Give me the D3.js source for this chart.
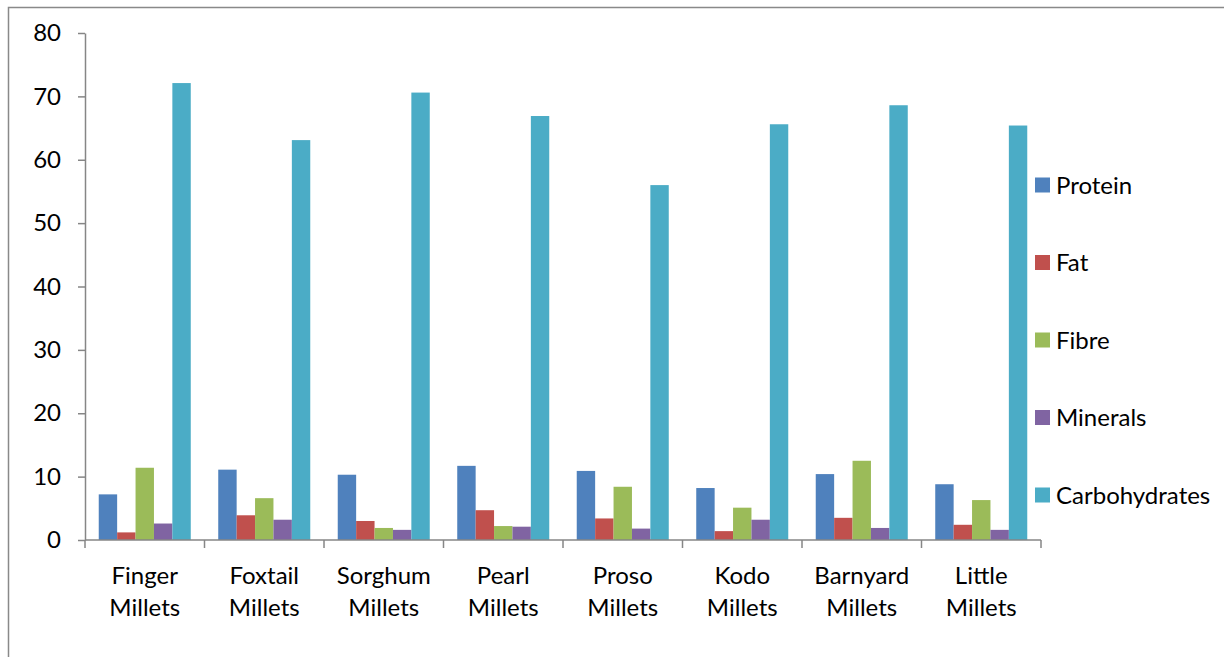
<!DOCTYPE html>
<html>
<head>
<meta charset="utf-8">
<script src="https://cdn.jsdelivr.net/npm/d3@7/dist/d3.min.js"></script>
<style>
  html, body { margin: 0; padding: 0; background: #fff; }
  svg { display: block; }
  text { font-family: Lato, "Open Sans", sans-serif; fill: #000; }
</style>
</head>
<body>
<svg id="chart" width="1224" height="657"></svg>
<script>
// Millet varieties on the x axis (two-line labels)
const categories = [
  ["Finger", "Millets"],
  ["Foxtail", "Millets"],
  ["Sorghum", "Millets"],
  ["Pearl", "Millets"],
  ["Proso", "Millets"],
  ["Kodo", "Millets"],
  ["Barnyard", "Millets"],
  ["Little", "Millets"]
];

// Nutrient composition (g per 100 g)
const protein       = [7.2, 11.1, 10.3, 11.7, 10.9, 8.2, 10.4, 8.8];
const fat           = [1.2, 3.9, 3.0, 4.7, 3.4, 1.4, 3.5, 2.4];
const fibre         = [11.4, 6.6, 1.9, 2.2, 8.4, 5.1, 12.5, 6.3];
const minerals      = [2.6, 3.2, 1.6, 2.1, 1.8, 3.2, 1.9, 1.6];
const carbohydrates = [72.1, 63.1, 70.6, 66.9, 56.0, 65.6, 68.6, 65.4];

const seriesNames = ["Protein", "Fat", "Fibre", "Minerals", "Carbohydrates"];
const seriesValues = [protein, fat, fibre, minerals, carbohydrates];
const seriesColors = ["#4f81bd", "#c0504d", "#9bbb59", "#8064a2", "#4bacc6"];

const yTicks = [0, 10, 20, 30, 40, 50, 60, 70, 80];

const svg = d3.select("#chart");

// chart-area frame (top and left edges visible)
svg.append("rect")
  .attr("x", 8.5).attr("y", 7.5)
  .attr("width", 1240).attr("height", 680)
  .attr("fill", "none").attr("stroke", "#898989").attr("stroke-width", 1.5);

const plot = { left: 85, right: 1041, top: 33, bottom: 540 };

const x0 = d3.scaleBand()
  .domain(d3.range(categories.length))
  .range([plot.left, plot.right])
  .paddingInner(0.23).paddingOuter(0.115);

const x1 = d3.scaleBand()
  .domain(d3.range(seriesNames.length))
  .range([0, x0.bandwidth()]);

const y = d3.scaleLinear().domain([0, 80]).range([plot.bottom, plot.top]);

// bars
const groups = svg.append("g").selectAll("g")
  .data(categories.map((c, i) => i))
  .join("g")
  .attr("transform", i => `translate(${x0(i)},0)`);

groups.selectAll("rect")
  .data(i => seriesValues.map((vals, s) => ({ s, v: vals[i] })))
  .join("rect")
  .attr("x", d => x1(d.s))
  .attr("width", x1.bandwidth())
  .attr("y", d => y(d.v))
  .attr("height", d => y(0) - y(d.v))
  .attr("fill", d => seriesColors[d.s]);

// y axis
const yAxis = svg.append("g")
  .attr("transform", `translate(${plot.left},0)`)
  .call(d3.axisLeft(y).tickValues(yTicks).tickSize(7).tickPadding(17).tickSizeOuter(0));
yAxis.select(".domain").attr("stroke", "#868686").attr("stroke-width", 1.5);
yAxis.selectAll(".tick line").attr("stroke", "#868686").attr("stroke-width", 1.5);
yAxis.selectAll(".tick text")
  .attr("font-family", "Lato, 'Open Sans', sans-serif")
  .attr("font-size", 24).attr("fill", "#000");

// x axis line and category boundary ticks
const bounds = d3.range(categories.length + 1).map(i =>
  i < categories.length ? x0(i) - x0.step() * x0.paddingOuter() : plot.right);
const xAxis = svg.append("g");
xAxis.append("line")
  .attr("x1", plot.left).attr("x2", plot.right)
  .attr("y1", y(0)).attr("y2", y(0))
  .attr("stroke", "#868686").attr("stroke-width", 1.5);
xAxis.selectAll("line.tick")
  .data(bounds)
  .join("line")
  .attr("class", "tick")
  .attr("x1", d => d).attr("x2", d => d)
  .attr("y1", y(0)).attr("y2", y(0) + 8)
  .attr("stroke", "#868686").attr("stroke-width", 1.5);

// category labels
const labels = xAxis.selectAll("text.cat")
  .data(categories.map((c, i) => ({ c, i })))
  .join("text")
  .attr("class", "cat")
  .attr("text-anchor", "middle")
  .attr("font-size", 24)
  .attr("transform", d => `translate(${x0(d.i) + x0.bandwidth() / 2},0)`);
labels.selectAll("tspan")
  .data(d => d.c)
  .join("tspan")
  .attr("x", 0)
  .attr("y", (t, k) => 584 + k * 32)
  .text(t => t);

// legend
const legend = svg.append("g").selectAll("g")
  .data(seriesNames.map((n, s) => ({ n, s })))
  .join("g")
  .attr("transform", d => `translate(1035,${185 + d.s * 77.5})`);
legend.append("rect")
  .attr("x", 0).attr("y", -7.5)
  .attr("width", 15).attr("height", 15)
  .attr("fill", d => seriesColors[d.s]);
legend.append("text")
  .attr("x", 21).attr("y", 0)
  .attr("dy", "0.36em")
  .attr("font-size", 24)
  .text(d => d.n);
</script>
</body>
</html>
